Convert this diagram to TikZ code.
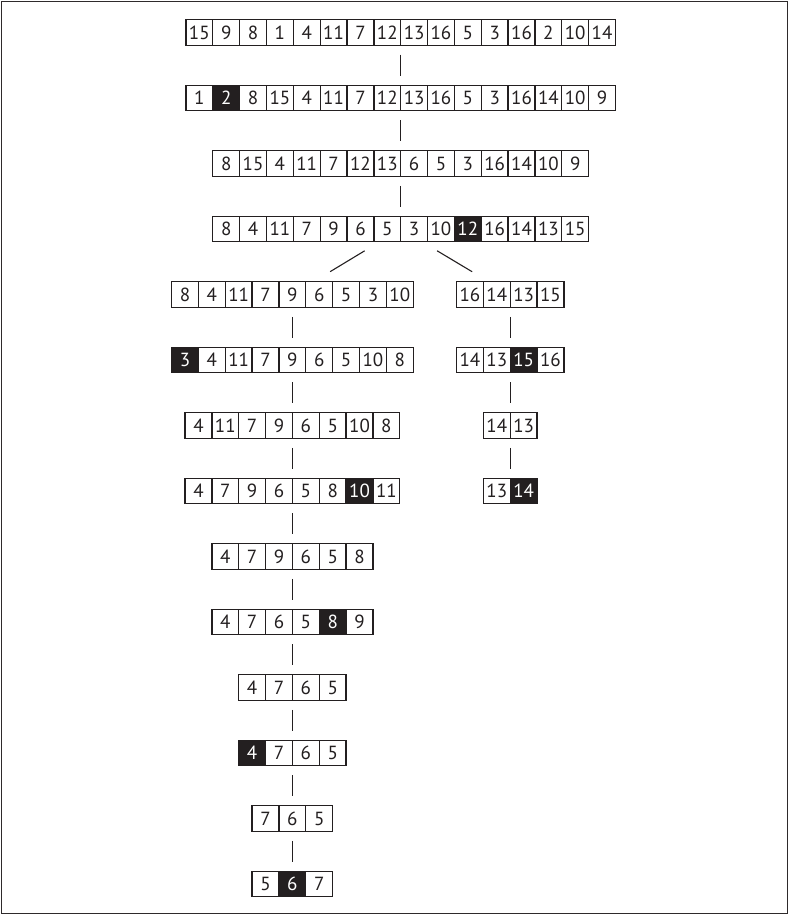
\documentclass[tikz,border=0pt]{standalone}
\usepackage{fontspec}
\setmainfont{PT Sans}
\definecolor{ink}{RGB}{35,31,32}
\def\cellw{26.85pt}
\def\cellh{25.5pt}
\tikzset{
  cell/.style={minimum width=\cellw, minimum height=\cellh, inner sep=0pt, outer sep=0pt,
    font=\fontsize{19}{20}\selectfont},
  cellline/.style={draw=ink, line width=1.3pt},
  rowbox/.style={minimum width=#1*\cellw, minimum height=\cellh, inner sep=0pt, outer sep=0pt},
  link/.style={draw=ink, line width=1.1pt, shorten <=9.5pt, shorten >=9.5pt},
  split/.style={draw=ink, line width=1.1pt, shorten <=17.5pt, shorten >=19.5pt}
}
% cells of one row, #3 is the dark cell (0 for none)
\newcommand{\fillrow}[3]{%
  \foreach \v [count=\i] in {#2} {
    \ifnum\i=#3 \def\cfill{ink}\def\ctext{white}\else\def\cfill{white}\def\ctext{ink}\fi
    \node[cell, fill=\cfill, text=\ctext, anchor=west] (#1-\i)
      at ([xshift=\i*\cellw-\cellw]#1.west) {\v};
  }%
  \draw[cellline] (#1.north west) rectangle (#1.south east);
  \foreach \v [count=\i] in {#2}
    \draw[cellline] (#1-\i.north east) -- (#1-\i.south east);
}
\begin{document}
\begin{tikzpicture}[x=1pt, y=-1pt, node distance=65.5pt]
\useasboundingbox (0,0) rectangle (789,915);
\draw[draw=ink!95, line width=1.6pt] (1.4,1.4) rectangle (787.6,913.6);
% main column
\node[rowbox=16] (r1) at (400.7,32.5) {};
\node[rowbox=16, below of=r1] (r2) {};
\node[rowbox=14, below of=r2] (r3) {};
\node[rowbox=14, below of=r3] (r4) {};
% left branch
\node[rowbox=9] (l1) at (292.4,294.5) {};
\node[rowbox=9, below of=l1] (l2) {};
\node[rowbox=8, below of=l2] (l3) {};
\node[rowbox=8, below of=l3] (l4) {};
\node[rowbox=6, below of=l4] (l5) {};
\node[rowbox=6, below of=l5] (l6) {};
\node[rowbox=4, below of=l6] (l7) {};
\node[rowbox=4, below of=l7] (l8) {};
\node[rowbox=3, below of=l8] (l9) {};
\node[rowbox=3, below of=l9] (l10) {};
% right branch
\node[rowbox=4] (g1) at (510.2,294.5) {};
\node[rowbox=4, below of=g1] (g2) {};
\node[rowbox=2, below of=g2] (g3) {};
\node[rowbox=2, below of=g3] (g4) {};

\fillrow{r1}{15,9,8,1,4,11,7,12,13,16,5,3,16,2,10,14}{0}
\fillrow{r2}{1,2,8,15,4,11,7,12,13,16,5,3,16,14,10,9}{2}
\fillrow{r3}{8,15,4,11,7,12,13,6,5,3,16,14,10,9}{0}
\fillrow{r4}{8,4,11,7,9,6,5,3,10,12,16,14,13,15}{10}
\fillrow{l1}{8,4,11,7,9,6,5,3,10}{0}
\fillrow{l2}{3,4,11,7,9,6,5,10,8}{1}
\fillrow{l3}{4,11,7,9,6,5,10,8}{0}
\fillrow{l4}{4,7,9,6,5,8,10,11}{7}
\fillrow{l5}{4,7,9,6,5,8}{0}
\fillrow{l6}{4,7,6,5,8,9}{5}
\fillrow{l7}{4,7,6,5}{0}
\fillrow{l8}{4,7,6,5}{1}
\fillrow{l9}{7,6,5}{0}
\fillrow{l10}{5,6,7}{2}
\fillrow{g1}{16,14,13,15}{0}
\fillrow{g2}{14,13,15,16}{3}
\fillrow{g3}{14,13}{0}
\fillrow{g4}{13,14}{2}

\draw[link] (r1) -- (r2);
\draw[link] (r2) -- (r3);
\draw[link] (r3) -- (r4);
\draw[split] (r4) -- (l1);
\draw[split] (r4) -- (g1);
\foreach \a/\b in {l1/l2,l2/l3,l3/l4,l4/l5,l5/l6,l6/l7,l7/l8,l8/l9,l9/l10,g1/g2,g2/g3,g3/g4}
  \draw[link] (\a) -- (\b);
\end{tikzpicture}
\end{document}
